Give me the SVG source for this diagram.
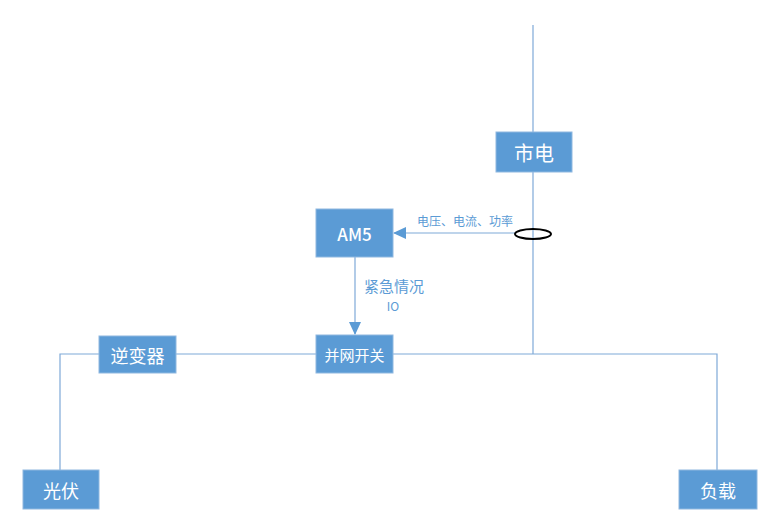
<svg xmlns="http://www.w3.org/2000/svg" width="779" height="521" viewBox="0 0 779 521">
<defs>
<style>
.box{fill:#5b9bd5;stroke:#8fb8e0;stroke-width:1}
.t{fill:#ffffff;font-family:"Noto Sans CJK SC","Liberation Sans",sans-serif;text-anchor:middle;dominant-baseline:central}
.ln{stroke:#7fa9d8;stroke-width:1.2;fill:none}
.lbl{fill:#5b9bd5;font-family:"Noto Sans CJK SC","Liberation Sans",sans-serif}
</style>
<marker id="ah" markerWidth="13" markerHeight="12" refX="12" refY="6" orient="auto" markerUnits="userSpaceOnUse">
<path d="M0,0 L13,6 L0,12 z" fill="#5b9bd5"/>
</marker>
</defs>
<rect width="779" height="521" fill="#ffffff"/>
<g id="connectors">
<line class="ln" x1="533" y1="25" x2="533" y2="354"/>
<polyline class="ln" points="60,470 60,354 717,354 717,470"/>
<line class="ln" x1="516" y1="233" x2="394" y2="233" stroke="#5b9bd5" marker-end="url(#ah)"/>
<line class="ln" x1="355" y1="257" x2="355" y2="334" stroke="#5b9bd5" marker-end="url(#ah)"/>
<ellipse cx="533" cy="234" rx="18" ry="5" fill="none" stroke="#000000" stroke-width="2"/>
<text class="lbl" x="465" y="226" font-size="12" text-anchor="middle">电压、电流、功率</text>
<text class="lbl" x="394" y="292" font-size="15" text-anchor="middle">紧急情况</text>
<text class="lbl" x="393" y="311" font-size="12" text-anchor="middle">IO</text>
</g>
<g id="shidian"><rect class="box" x="496" y="132" width="76" height="40"/><text class="t" x="534" y="152" font-size="20">市电</text></g>
<g id="am5"><rect class="box" x="316" y="209" width="77" height="48"/><text class="t" x="354.5" y="233" font-size="17" font-weight="500">AM5</text></g>
<g id="bingwang"><rect class="box" x="316" y="335" width="77" height="38"/><text class="t" x="354.5" y="354" font-size="15">并网开关</text></g>
<g id="nibianqi"><rect class="box" x="99" y="336" width="77" height="37"/><text class="t" x="137.5" y="354.5" font-size="18">逆变器</text></g>
<g id="guangfu"><rect class="box" x="23" y="470" width="76" height="39"/><text class="t" x="61" y="489.5" font-size="18">光伏</text></g>
<g id="fuzai"><rect class="box" x="679" y="470" width="78" height="39"/><text class="t" x="718" y="489.5" font-size="18">负载</text></g>
</svg>
